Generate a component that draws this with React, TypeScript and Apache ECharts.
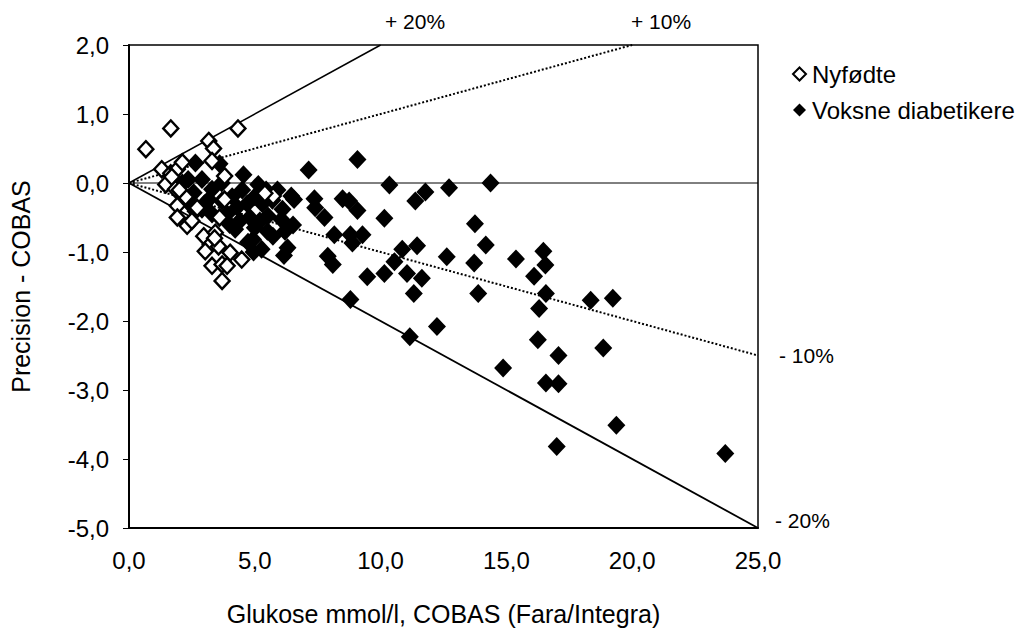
import React, { useEffect, useRef } from "react";
import * as echarts from "echarts";

// Tick values
const xTicks = [0, 5, 10, 15, 20, 25];
const yTicks = [-5, -4, -3, -2, -1, 0, 1, 2];

// Reference lines (endpoints in data units)
const linePlus20: number[][] = [[0, 0], [10, 2]];
const linePlus10: number[][] = [[0, 0], [20, 2]];
const lineZero: number[][] = [[0, 0], [25, 0]];
const lineMinus10: number[][] = [[0, 0], [25, -2.5]];
const lineMinus20: number[][] = [[0, 0], [25, -5]];
const refLabels = ["+ 20%", "+ 10%", "- 10%", "- 20%"];

// Nyfødte (open diamonds)
const nyfodte: number[][] = [
  [0.67, 0.49], [1.66, 0.79], [3.17, 0.61], [3.36, 0.5], [4.33, 0.79],
  [1.3, 0.2], [1.66, 0.14], [1.92, 0.2], [2.12, 0.3], [1.46, -0.02],
  [1.7, 0.09], [1.85, -0.09], [1.92, -0.33], [2.25, -0.2], [1.92, -0.5],
  [2.31, -0.62], [2.71, -0.36], [3.3, 0.32], [3.8, 0.1], [2.97, -0.77],
  [3.23, -0.89], [3.03, -0.99], [3.43, -0.72], [3.56, -0.92], [4.02, -1.01],
  [3.3, -1.2], [3.7, -1.18], [3.9, -1.2], [3.7, -1.42], [4.48, -1.11],
  [5.73, -0.19], [3.8, -0.24], [2.5, -0.55], [2.0, -0.1], [3.6, -0.5],
  [5.4, -0.15], [3.4, -0.8],
];

// Voksne diabetikere (filled diamonds)
const voksne: number[][] = [
  [9.08, 0.34], [7.14, 0.19], [10.35, -0.03], [11.78, -0.13], [11.38, -0.26],
  [12.72, -0.07], [14.37, 0.0], [6.56, -0.24], [7.37, -0.23], [7.4, -0.36],
  [8.49, -0.23], [8.75, -0.26], [9.08, -0.4], [7.77, -0.5], [10.15, -0.51],
  [6.52, -0.61], [8.16, -0.75], [8.8, -0.75], [9.28, -0.75], [8.88, -0.87],
  [7.9, -1.06], [8.1, -1.18], [10.86, -0.96], [11.45, -0.91], [10.55, -1.14],
  [9.47, -1.36], [10.15, -1.31], [11.05, -1.31], [11.64, -1.38], [11.32, -1.6],
  [8.8, -1.69], [6.16, -1.05], [13.75, -0.59], [14.18, -0.9], [12.63, -1.07],
  [13.72, -1.16], [15.38, -1.1], [16.47, -0.99], [16.55, -1.19], [16.1, -1.35],
  [13.88, -1.6], [16.57, -1.6], [16.3, -1.82], [18.35, -1.7], [19.23, -1.67],
  [12.24, -2.08], [11.16, -2.23], [16.25, -2.27], [17.07, -2.5], [18.85, -2.39],
  [14.87, -2.68], [16.57, -2.9], [17.07, -2.91], [19.37, -3.51], [17.0, -3.82],
  [23.7, -3.92],
  [2.12, 0.0], [2.35, 0.05], [2.64, 0.29], [2.9, 0.05], [2.57, -0.14],
  [2.38, -0.29], [2.64, -0.41], [2.9, -0.38], [3.3, -0.09], [3.17, -0.24],
  [3.69, 0.0], [3.6, 0.28], [3.69, -0.26], [3.9, -0.45], [4.1, -0.2],
  [4.3, -0.35], [4.55, 0.12], [4.5, -0.1], [4.7, -0.3], [4.8, -0.5],
  [5.14, -0.02], [5.0, -0.2], [5.3, -0.3], [5.2, -0.55], [5.52, -0.48],
  [5.7, -0.25], [5.45, -0.1], [6.06, -0.53], [6.1, -0.38], [6.45, -0.19],
  [5.72, -0.77], [6.3, -0.94], [4.22, -0.67], [4.73, -0.86], [4.93, -0.82],
  [5.27, -0.96], [4.95, -1.0], [5.5, -0.7], [3.3, -0.45], [3.0, -0.3],
  [4.0, -0.6], [4.4, -0.55], [5.9, -0.1], [6.2, -0.7], [5.0, -0.65],
];

const FONT = "Liberation Sans, Arial, sans-serif";
const fmt = (v: number) => v.toFixed(1).replace(".", ",");

export default function App() {
  const ref = useRef<HTMLDivElement>(null);
  useEffect(() => {
    if (!ref.current) return;
    const chart = echarts.init(ref.current, undefined, { renderer: "svg" });
    const refLine = (name: string, data: number[][], type: string, width: number) => ({
      name,
      type: "line",
      data,
      symbol: "none",
      silent: true,
      z: 1,
      lineStyle: { color: "#000", width, type, opacity: 1 },
    });
    chart.setOption({
      animation: false,
      backgroundColor: "#fff",
      textStyle: { fontFamily: FONT, color: "#000" },
      grid: {
        left: 123,
        top: 45,
        width: 635,
        height: 483,
        show: true,
        borderColor: "#000",
        borderWidth: 1.5,
      },
      legend: {
        orient: "vertical",
        left: 787,
        top: 57,
        itemWidth: 13,
        itemHeight: 13,
        itemGap: 12,
        icon: "diamond",
        data: ["Nyfødte", "Voksne diabetikere"],
        textStyle: { fontSize: 24, fontFamily: FONT, color: "#000", padding: [0, 0, 0, 1] },
      },
      xAxis: {
        type: "value",
        min: xTicks[0],
        max: xTicks[xTicks.length - 1],
        interval: 5,
        name: "Glukose mmol/l, COBAS (Fara/Integra)",
        nameLocation: "middle",
        nameGap: 73,
        nameTextStyle: { fontSize: 25, fontFamily: FONT, color: "#000" },
        axisLine: { onZero: false, lineStyle: { color: "#000", width: 2 } },
        axisTick: { show: false },
        splitLine: { show: false },
        axisLabel: { formatter: fmt, fontSize: 24, margin: 20, color: "#000", fontFamily: FONT },
      },
      yAxis: {
        type: "value",
        min: yTicks[0],
        max: yTicks[yTicks.length - 1],
        interval: 1,
        name: "Precision - COBAS",
        nameLocation: "middle",
        nameGap: 96,
        nameRotate: 90,
        nameTextStyle: { fontSize: 25, fontFamily: FONT, color: "#000" },
        axisLine: { onZero: false, lineStyle: { color: "#000", width: 2 } },
        axisTick: { show: true, inside: false, length: 6, lineStyle: { color: "#000", width: 1 } },
        splitLine: { show: false },
        axisLabel: { formatter: fmt, fontSize: 24, margin: 20, color: "#000", fontFamily: FONT },
      },
      series: [
        refLine("p20", linePlus20, "solid", 1.5),
        refLine("p10", linePlus10, "dotted", 2),
        refLine("zero", lineZero, "solid", 1),
        refLine("m10", lineMinus10, "dotted", 2),
        refLine("m20", lineMinus20, "solid", 1.8),
        {
          name: "Voksne diabetikere",
          type: "scatter",
          data: voksne,
          symbol: "diamond",
          symbolSize: [18, 19],
          z: 3,
          itemStyle: { color: "#000", borderColor: "#000", borderWidth: 0, opacity: 1 },
        },
        {
          name: "Nyfødte",
          type: "scatter",
          data: nyfodte,
          symbol: "diamond",
          symbolSize: [15, 16],
          z: 4,
          itemStyle: { color: "#fff", borderColor: "#000", borderWidth: 2.4, opacity: 1 },
        },
      ],
      graphic: [
        { type: "text", left: 385, top: 11, style: { text: refLabels[0], fontSize: 21, fontFamily: FONT, fill: "#000" } },
        { type: "text", left: 631, top: 11, style: { text: refLabels[1], fontSize: 21, fontFamily: FONT, fill: "#000" } },
        { type: "text", left: 779, top: 345, style: { text: refLabels[2], fontSize: 21, fontFamily: FONT, fill: "#000" } },
        { type: "text", left: 775, top: 510, style: { text: refLabels[3], fontSize: 21, fontFamily: FONT, fill: "#000" } },
      ],
    });
    return () => chart.dispose();
  }, []);
  return (
    <div
      ref={ref}
      style={{ position: "absolute", left: 0, top: 0, width: 1035, height: 631, background: "#fff" }}
    />
  );
}
